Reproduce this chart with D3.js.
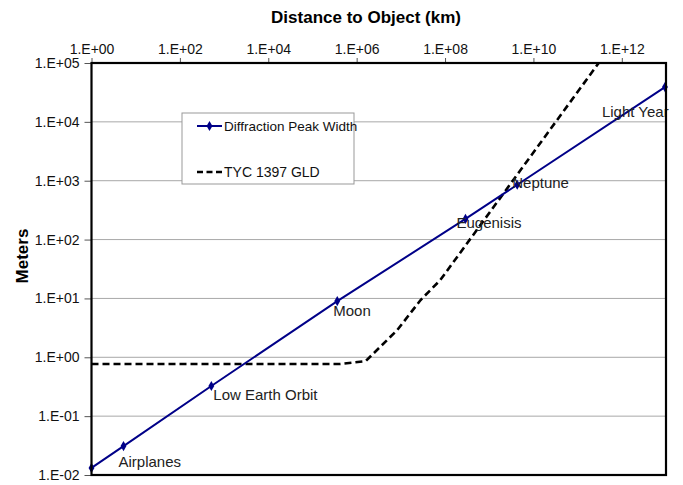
<!DOCTYPE html>
<html>
<head>
<meta charset="utf-8">
<script src="https://cdn.jsdelivr.net/npm/d3@7/dist/d3.min.js"></script>
<style>
  html, body { margin: 0; padding: 0; background: #fff; }
  text { font-family: "Liberation Sans", Arial, sans-serif; }
</style>
</head>
<body>
<svg id="chart" width="683" height="485"></svg>
<script>
// ---- data ----
const xTickValues = [1e0, 1e2, 1e4, 1e6, 1e8, 1e10, 1e12];
const xTickLabels = ["1.E+00", "1.E+02", "1.E+04", "1.E+06", "1.E+08", "1.E+10", "1.E+12"];
const yTickValues = [1e-2, 1e-1, 1e0, 1e1, 1e2, 1e3, 1e4, 1e5];
const yTickLabels = ["1.E-02", "1.E-01", "1.E+00", "1.E+01", "1.E+02", "1.E+03", "1.E+04", "1.E+05"];

const peakDistance = [1, 5.3, 515, 3.64e5, 2.9e8, 4.3e9, 9.46e12];
const peakWidth = [0.0132, 0.031, 0.325, 9.0, 224, 854, 39000];
const peakLabels = ["", "Airplanes", "Low Earth Orbit", "Moon", "Eugenisis", "Neptune", "Light Year"];

const tycDistance = [1, 4.3e5, 1.6e6, 8.3e6, 2.8e7, 7.8e7, 3.0e11];
const tycWidth = [0.77, 0.77, 0.86, 2.9, 9.4, 20.5, 1.0e5];

const seriesNames = ["Diffraction Peak Width", "TYC 1397 GLD"];
const xTitle = "Distance to Object (km)";
const yTitle = "Meters";

// ---- layout ----
const plot = { left: 91.5, right: 666, top: 63, bottom: 475 };
const svg = d3.select("#chart");

const x = d3.scaleLog().domain([1, 1e13]).range([plot.left, plot.right]);
const y = d3.scaleLog().domain([1e-2, 1e5]).range([plot.bottom, plot.top]);

// gridlines
svg.append("g")
  .selectAll("line")
  .data(yTickValues.slice(1, -1))
  .join("line")
  .attr("x1", plot.left).attr("x2", plot.right)
  .attr("y1", d => y(d)).attr("y2", d => y(d))
  .attr("stroke", "#a8a8a8").attr("stroke-width", 1);

// top axis
const xAxis = d3.axisTop(x)
  .tickValues(xTickValues)
  .tickFormat((d, i) => xTickLabels[i])
  .tickSize(5).tickPadding(4);
const gx = svg.append("g").attr("transform", `translate(0,${plot.top})`).call(xAxis);
gx.select(".domain").remove();
gx.selectAll(".tick line").attr("stroke", "#555");
gx.selectAll(".tick text").attr("font-size", 14).attr("fill", "#111")
  .style("font-family", "'Liberation Sans', Arial, sans-serif");

// left axis
const yAxis = d3.axisLeft(y)
  .tickValues(yTickValues)
  .tickFormat((d, i) => yTickLabels[i])
  .tickSize(7).tickPadding(5);
const gy = svg.append("g").attr("transform", `translate(${plot.left},0)`).call(yAxis);
gy.select(".domain").remove();
gy.selectAll(".tick line").attr("stroke", "#555");
gy.selectAll(".tick text").attr("font-size", 14).attr("fill", "#111")
  .style("font-family", "'Liberation Sans', Arial, sans-serif");

// clip
svg.append("clipPath").attr("id", "clip")
  .append("rect")
  .attr("x", plot.left).attr("y", plot.top)
  .attr("width", plot.right - plot.left).attr("height", plot.bottom - plot.top);

// TYC dashed line
const tycData = tycDistance.map((d, i) => [d, tycWidth[i]]);
const line = d3.line().x(d => x(d[0])).y(d => y(d[1]));
svg.append("path")
  .datum(tycData)
  .attr("clip-path", "url(#clip)")
  .attr("d", line)
  .attr("fill", "none")
  .attr("stroke", "#000")
  .attr("stroke-width", 2.6)
  .attr("stroke-dasharray", "7,4");

// peak series
const peakData = peakDistance.map((d, i) => [d, peakWidth[i]]);
svg.append("path")
  .datum(peakData)
  .attr("d", line)
  .attr("fill", "none")
  .attr("stroke", "#000088")
  .attr("stroke-width", 2);

const diamond = d3.symbol().type(d3.symbolDiamond).size(30);
svg.append("g")
  .selectAll("path")
  .data(peakData)
  .join("path")
  .attr("transform", d => `translate(${x(d[0])},${y(d[1])})`)
  .attr("d", diamond)
  .attr("fill", "#000088");

// point labels (offset from each point)
const labelOffsets = [[0, 0], [-5, 21], [2, 14], [-4, 15], [-9, 9], [-5, 3], [-63, 30]];
svg.append("g")
  .selectAll("text")
  .data(peakData)
  .join("text")
  .attr("x", (d, i) => x(d[0]) + labelOffsets[i][0])
  .attr("y", (d, i) => y(d[1]) + labelOffsets[i][1])
  .attr("font-size", 15)
  .attr("fill", "#222")
  .text((d, i) => peakLabels[i]);

// plot border
svg.append("rect")
  .attr("x", plot.left).attr("y", plot.top)
  .attr("width", plot.right - plot.left).attr("height", plot.bottom - plot.top)
  .attr("fill", "none").attr("stroke", "#000").attr("stroke-width", 2.2);

// legend
const lg = svg.append("g").attr("transform", "translate(182,113)");
lg.append("rect").attr("x", 0).attr("y", 0).attr("width", 172).attr("height", 71)
  .attr("fill", "#fff").attr("stroke", "#999").attr("stroke-width", 1);
lg.append("line").attr("x1", 15).attr("x2", 40).attr("y1", 13).attr("y2", 13)
  .attr("stroke", "#000088").attr("stroke-width", 2);
lg.append("path").attr("transform", "translate(27.5,13)").attr("d", diamond).attr("fill", "#000088");
lg.append("text").attr("x", 42).attr("y", 18).attr("font-size", 13.5).attr("fill", "#111").text(seriesNames[0]);
lg.append("line").attr("x1", 15).attr("x2", 40).attr("y1", 59).attr("y2", 59)
  .attr("stroke", "#000").attr("stroke-width", 2.6).attr("stroke-dasharray", "6,3.5");
lg.append("text").attr("x", 42).attr("y", 64).attr("font-size", 14).attr("fill", "#111").text(seriesNames[1]);

// titles
svg.append("text")
  .attr("x", 366).attr("y", 23)
  .attr("text-anchor", "middle")
  .attr("font-size", 17).attr("font-weight", "bold").attr("fill", "#000")
  .text(xTitle);
svg.append("text")
  .attr("transform", "translate(28,256) rotate(-90)")
  .attr("text-anchor", "middle")
  .attr("font-size", 17).attr("font-weight", "bold").attr("fill", "#000")
  .text(yTitle);
</script>
</body>
</html>
